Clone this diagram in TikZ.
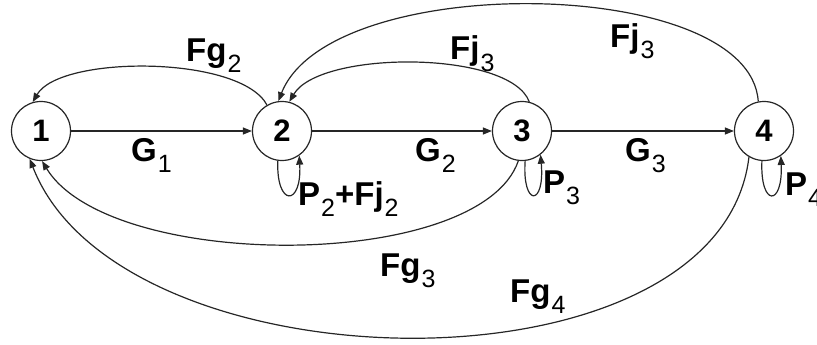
\documentclass[tikz,border=0pt]{standalone}
\usepackage{fontspec}
\setmainfont{Liberation Sans}
\usetikzlibrary{arrows.meta}
\newcommand\mainfs{\fontsize{33}{33}\selectfont\bfseries}
\newcommand\nodefs{\fontsize{31}{31}\selectfont\bfseries}
\newcommand\subfs{\fontsize{25}{25}\selectfont\mdseries}
\newcommand\sbx[1]{\kern1pt\raisebox{-11pt}{\subfs #1}}
\begin{document}
\begin{tikzpicture}[x=1pt,y=-1pt,
  state/.style={circle,draw=black!85,line width=1.2pt,minimum size=59pt,inner sep=0pt,font=\nodefs},
  edge/.style={draw=black!85,line width=1.2pt,-{Triangle[length=9pt,width=7pt]}},
  lbl/.style={anchor=base west,inner sep=0pt,font=\mainfs}]
\useasboundingbox (0,0) rectangle (817,345);
\clip (0,0) rectangle (817,345);
\node[state] (n1) at (41,131) {1};
\node[state] (n2) at (282,131) {2};
\node[state] (n3) at (522,131) {3};
\node[state] (n4) at (764,131) {4};
% forward edges
\draw[edge] (n1.east) -- (n2.west);
\draw[edge] (n2.east) -- (n3.west);
\draw[edge] (n3.east) -- (n4.west);
% upper arcs
\draw[edge] (n2.120) .. controls (240,55) and (60,55) .. (n1.106);
\draw[edge] (n3.76) .. controls (510,50) and (320,50) .. (n2.76);
\draw[edge] (n4.101) .. controls (750,-25) and (330,-30) .. (n2.97);
% lower arcs
\draw[edge] (n3.263) .. controls (480,272) and (110,272) .. (n1.272);
\draw[edge] (n4.240) .. controls (720,402) and (120,392) .. (n1.248);
% self loops
\draw[edge] (n2.262) .. controls (276,207) and (302,207) .. (n2.305);
\draw[edge] (n3.276) .. controls (522,207) and (545,207) .. (n3.308);
\draw[edge] (n4.266) .. controls (760,207) and (783,207) .. (n4.304);
% labels
\node[lbl] (l1) at (186,62) {Fg\sbx{2}};
\node[lbl] (l2) at (131,161) {G\sbx{1}};
\node[lbl] (l3) at (415,161) {G\sbx{2}};
\node[lbl] (l4) at (625,161) {G\sbx{3}};
\node[lbl] (l5) at (450,60) {Fj\sbx{3}};
\node[lbl] (l6) at (610,48) {Fj\sbx{3}};
\node[lbl] (l7) at (298,205) {P\sbx{2}+Fj\sbx{2}};
\node[lbl] (l8) at (543,193) {P\sbx{3}};
\node[lbl] (l9) at (785,195) {P\sbx{4}};
\node[lbl] (l10) at (380,276) {Fg\sbx{3}};
\node[lbl] (l11) at (510,302) {Fg\sbx{4}};
\end{tikzpicture}
\end{document}
